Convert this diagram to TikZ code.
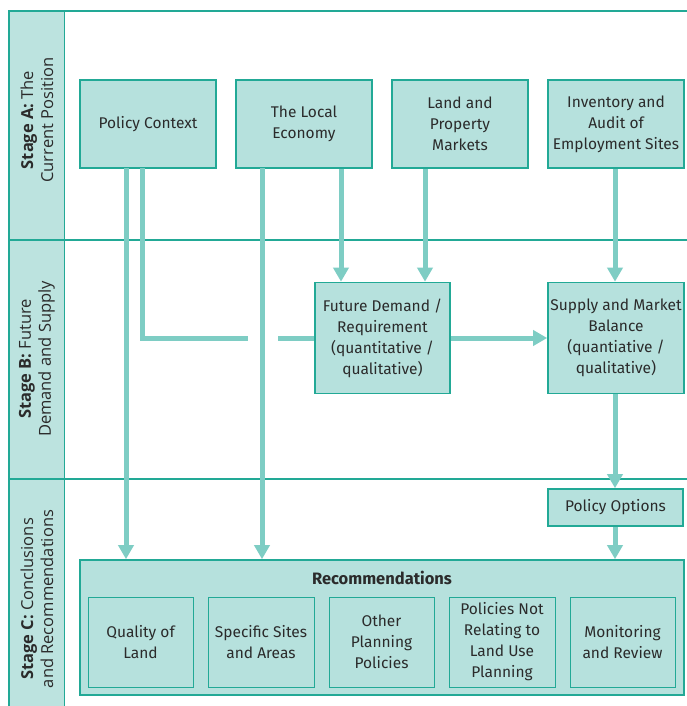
\documentclass[tikz,border=0pt]{standalone}
\usepackage{fontspec}
\setmainfont{Fira Sans}
\newfontfamily\stagefont{Open Sans}
\usetikzlibrary{arrows.meta}
\definecolor{framec}{HTML}{22A996}
\definecolor{fillc}{HTML}{B6E1DD}
\definecolor{stripc}{HTML}{BCE3DF}
\definecolor{arrowc}{HTML}{7ECDC4}
\definecolor{textc}{HTML}{2B2B2B}
\tikzset{
  box/.style={draw=framec, line width=1.6pt, fill=fillc, inner sep=0pt, align=center,
    text=textc, font=\fontsize{15.5}{21}\selectfont},
  inbox/.style={draw=framec, line width=1pt, fill=fillc, inner sep=0pt, align=center,
    text=textc, font=\fontsize{15.5}{21}\selectfont},
  conn/.style={draw=arrowc, line width=5pt},
  arr/.style={conn, -{Triangle[width=15pt,length=14pt]}},
  stagelbl/.style={rotate=90, align=center, text=textc, font=\stagefont\fontsize{16.5}{20}\selectfont},
  frameline/.style={draw=framec, line width=1.6pt}
}
\begin{document}
\begin{tikzpicture}[x=1pt,y=-1pt]
\useasboundingbox (0,0) rectangle (687,706);
% strip and frame
\fill[stripc] (9,11) rectangle (64,706);
\draw[frameline] (687,11) -- (9,11) -- (9,706);
\draw[frameline] (9,240) -- (687,240);
\draw[frameline] (9,479) -- (687,479);
\draw[framec, line width=0.8pt] (64,11) -- (64,706);
\node[stagelbl] (sa) at (37,120) {\textbf{Stage A:} The\\Current Position};
\node[stagelbl] (sb) at (37,359) {\textbf{Stage B:} Future\\Demand and Supply};
\node[stagelbl] (sc) at (37,599) {\textbf{Stage C:} Conclusions\\and Recommendations};
% Stage A boxes
\node[box, minimum width=136pt, minimum height=88pt] (pc) at (148,124) {Policy Context};
\node[box, minimum width=136pt, minimum height=88pt] (le) at (304,124) {The Local\\Economy};
\node[box, minimum width=136pt, minimum height=88pt] (lp) at (460,124) {Land and\\Property\\Markets};
\node[box, minimum width=136pt, minimum height=88pt] (inv) at (616,124) {Inventory and\\Audit of\\Employment Sites};
% Stage B boxes
\node[box, minimum width=135pt, minimum height=111pt] (fd) at (382.5,338) {Future Demand /\\Requirement\\(quantitative /\\qualitative)};
\node[box, minimum width=136pt, minimum height=111pt] (sm) at (616,338) {Supply and Market\\Balance\\(quantiative /\\qualitative)};
% Stage C
\node[box, minimum width=135pt, minimum height=37pt] (po) at (615.5,507.5) {Policy Options};
\node[box, minimum width=604pt, minimum height=135pt] (rec) at (382,627.5) {};
\node[text=textc, font=\bfseries\fontsize{16.5}{21}\selectfont] (rect) at (382,578) {Recommendations};
\node[inbox, minimum width=105pt, minimum height=90pt] (q1) at (140.5,642) {Quality of\\Land};
\node[inbox, minimum width=106pt, minimum height=90pt] (q2) at (261,642) {Specific Sites\\and Areas};
\node[inbox, minimum width=105pt, minimum height=90pt] (q3) at (381.5,642) {Other\\Planning\\Policies};
\node[inbox, minimum width=106pt, minimum height=90pt] (q4) at (502,642) {Policies Not\\Relating to\\Land Use\\Planning};
\node[inbox, minimum width=105pt, minimum height=90pt] (q5) at (622.5,642) {Monitoring\\and Review};
% connectors
\coordinate (pcA) at (126,168);
\coordinate (pcB) at (142,168);
\coordinate (leA) at (262,168);
\coordinate (gapL) at (248,338);
\coordinate (gapR) at (278,338);
\draw[arr] (pcA) -- (pcA |- rec.north);
\draw[conn] (pcB) |- (gapL);
\draw[conn] (gapR) -- (fd.west);
\draw[arr] (leA) -- (leA |- rec.north);
\draw[arr] (le.south -| 341,0) -- (fd.north -| 341,0);
\draw[arr] (lp.south -| 425,0) -- (fd.north -| 425,0);
\draw[arr] (fd.east) -- (sm.west);
\draw[arr] (inv.south -| 615,0) -- (sm.north -| 615,0);
\draw[arr] (sm.south -| 615,0) -- (po.north -| 615,0);
\draw[arr] (po.south -| 615,0) -- (rec.north -| 615,0);
\end{tikzpicture}
\end{document}
